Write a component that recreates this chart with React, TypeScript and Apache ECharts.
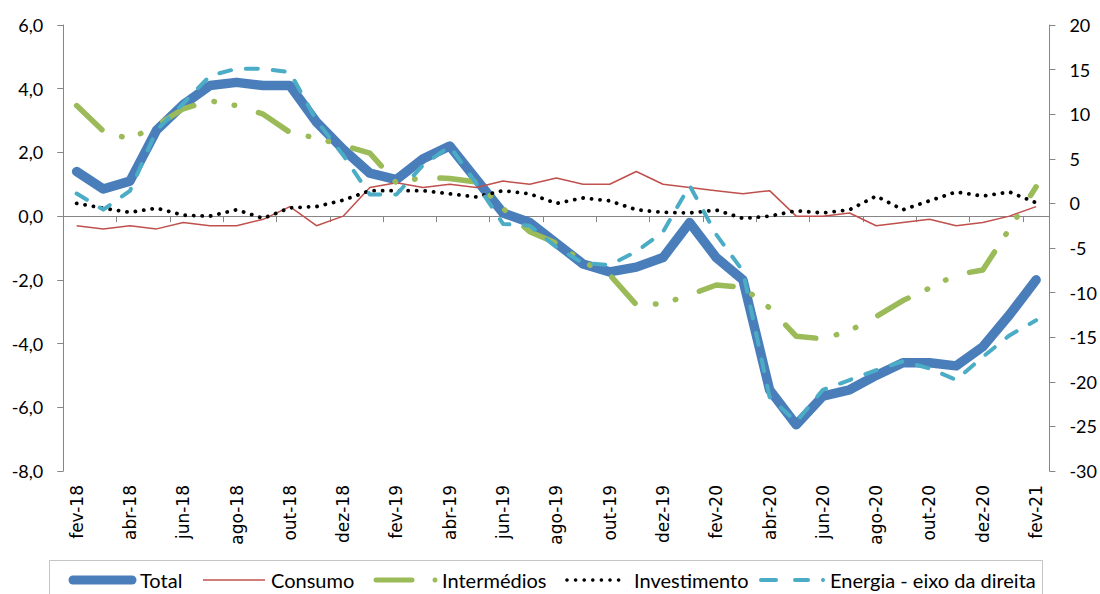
import React, { useEffect, useRef } from "react";
import * as echarts from "echarts";

const categories = [
  "fev-18", "mar-18", "abr-18", "mai-18", "jun-18", "jul-18", "ago-18", "set-18", "out-18", "nov-18", "dez-18",
  "jan-19", "fev-19", "mar-19", "abr-19", "mai-19", "jun-19", "jul-19", "ago-19", "set-19", "out-19", "nov-19", "dez-19",
  "jan-20", "fev-20", "mar-20", "abr-20", "mai-20", "jun-20", "jul-20", "ago-20", "set-20", "out-20", "nov-20", "dez-20",
  "jan-21", "fev-21",
];

const totalValues = [
  1.4, 0.85, 1.1, 2.7, 3.5, 4.1, 4.2, 4.1, 4.1, 2.95, 2.1, 1.35, 1.15,
  1.8, 2.2, 1.15, 0.1, -0.2, -0.85, -1.5, -1.75, -1.6, -1.3, -0.2, -1.3, -2.0,
  -5.45, -6.55, -5.65, -5.45, -5.0, -4.6, -4.6, -4.7, -4.1, -3.1, -2.0,
];

const consumoValues = [
  -0.3, -0.4, -0.3, -0.4, -0.2, -0.3, -0.3, -0.1, 0.3, -0.3, 0.0, 0.9, 1.05,
  0.9, 1.0, 0.9, 1.1, 1.0, 1.2, 1.0, 1.0, 1.4, 1.0, 0.9, 0.8, 0.7,
  0.8, 0.0, 0.0, 0.1, -0.3, -0.2, -0.1, -0.3, -0.2, 0.0, 0.3,
];

const intermediosValues = [
  3.47, 2.67, 2.42, 2.85, 3.37, 3.62, 3.47, 3.2, 2.63, 2.45, 2.22, 1.98, 1.04,
  1.22, 1.18, 1.07, 0.24, -0.49, -0.85, -1.43, -1.84, -2.78, -2.75, -2.47, -2.16, -2.24,
  -2.88, -3.77, -3.85, -3.6, -3.15, -2.65, -2.26, -1.84, -1.69, -0.4, 0.92,
];

const investimentoValues = [
  0.4, 0.25, 0.12, 0.25, 0.03, 0.0, 0.2, -0.07, 0.26, 0.3, 0.5, 0.8, 0.8,
  0.8, 0.7, 0.6, 0.8, 0.7, 0.4, 0.57, 0.48, 0.2, 0.12, 0.1, 0.19, -0.07,
  0.0, 0.17, 0.1, 0.2, 0.63, 0.2, 0.48, 0.76, 0.63, 0.76, 0.42,
];

const energiaValues = [
  1.1, -0.7, 1.4, 8.2, 11.2, 14.3, 15.1, 15.1, 14.7, 9.3, 5.4, 1.0, 1.0,
  4.3, 6.4, 2.2, -2.3, -2.5, -4.9, -6.7, -6.9, -5.4, -3.2, 2.0, -3.5, -7.6,
  -21.7, -24.5, -20.9, -19.8, -18.7, -17.7, -18.5, -19.8, -17.2, -14.8, -13.1,
];

const legendNames = ["Total", "Consumo", "Intermédios", "Investimento", "Energia - eixo da direita"];

const BLUE = "#4a7ebb";
const RED = "#c0504d";
const GREEN = "#9bbb59";
const BLACK = "#000000";
const CYAN = "#4bacc6";
const AXIS_GRAY = "#868686";

export default function App() {
  const ref = useRef<HTMLDivElement>(null);

  useEffect(() => {
    if (!ref.current) return;
    const chart = echarts.init(ref.current, null, { renderer: "svg" });

    const ly = 580;
    const legendFont = { fontFamily: "Lato", fontSize: 20, fill: "#000" };
    const txt = (x: number, text: string) => ({
      type: "text",
      x,
      y: ly,
      style: { text, ...legendFont, verticalAlign: "middle", align: "left" },
    });
    const investDots = [] as any[];
    for (let i = 0; i < 7; i++) {
      investDots.push({
        type: "circle",
        shape: { cx: 567 + i * 8.6, cy: ly, r: 1.8 },
        style: { fill: BLACK },
      });
    }

    const graphic = [
      {
        type: "rect",
        shape: { x: 49.5, y: 560.5, width: 993, height: 60 },
        style: { fill: "none", stroke: "#c4c4c4", lineWidth: 1 },
      },
      {
        type: "line",
        shape: { x1: 73, y1: ly, x2: 132, y2: ly },
        style: { stroke: BLUE, lineWidth: 9, lineCap: "round" },
      },
      txt(140, legendNames[0]),
      {
        type: "line",
        shape: { x1: 203, y1: ly, x2: 265, y2: ly },
        style: { stroke: RED, lineWidth: 1.5 },
      },
      txt(271, legendNames[1]),
      {
        type: "line",
        shape: { x1: 376, y1: ly, x2: 412, y2: ly },
        style: { stroke: GREEN, lineWidth: 5, lineCap: "round" },
      },
      { type: "circle", shape: { cx: 435, cy: ly, r: 2.5 }, style: { fill: GREEN } },
      txt(442, legendNames[2]),
      ...investDots,
      txt(634, legendNames[3]),
      {
        type: "line",
        shape: { x1: 761, y1: ly, x2: 776, y2: ly },
        style: { stroke: CYAN, lineWidth: 4, lineCap: "round" },
      },
      {
        type: "line",
        shape: { x1: 795, y1: ly, x2: 808, y2: ly },
        style: { stroke: CYAN, lineWidth: 4, lineCap: "round" },
      },
      { type: "circle", shape: { cx: 823, cy: ly, r: 2 }, style: { fill: CYAN } },
      txt(830, legendNames[4]),
    ];

    chart.setOption({
      animation: false,
      backgroundColor: "#ffffff",
      grid: { left: 63.3, right: 49.3, top: 25, bottom: 123, containLabel: false },
      xAxis: [
        {
          type: "category",
          data: categories,
          boundaryGap: true,
          position: "bottom",
          axisLine: { show: true, onZero: true, onZeroAxisIndex: 0, lineStyle: { color: AXIS_GRAY, width: 1 } },
          axisTick: { show: true, interval: 1, length: 6, inside: false, lineStyle: { color: AXIS_GRAY } },
          axisLabel: { show: false },
          splitLine: { show: false },
        },
        {
          type: "category",
          data: categories,
          boundaryGap: true,
          position: "bottom",
          axisLine: { show: false, onZero: false },
          axisTick: { show: false },
          axisLabel: {
            show: true,
            interval: 1,
            rotate: 90,
            margin: 14,
            color: "#000",
            fontFamily: "DejaVu Sans",
            fontSize: 17,
          },
          splitLine: { show: false },
        },
      ],
      yAxis: [
        {
          type: "value",
          min: -8,
          max: 6,
          interval: 2,
          position: "left",
          axisLine: { show: true, lineStyle: { color: AXIS_GRAY, width: 1 } },
          axisTick: { show: true, length: 6, lineStyle: { color: AXIS_GRAY } },
          axisLabel: {
            margin: 20,
            color: "#000",
            fontFamily: "Lato",
            fontSize: 18,
            formatter: (v: number) => v.toFixed(1).replace(".", ","),
          },
          splitLine: { show: false },
        },
        {
          type: "value",
          min: -30,
          max: 20,
          interval: 5,
          position: "right",
          axisLine: { show: true, lineStyle: { color: AXIS_GRAY, width: 1 } },
          axisTick: { show: true, length: 6, lineStyle: { color: AXIS_GRAY } },
          axisLabel: {
            margin: 20,
            color: "#000",
            fontFamily: "Lato",
            fontSize: 18,
          },
          splitLine: { show: false },
        },
      ],
      series: [
        {
          name: legendNames[0],
          type: "line",
          xAxisIndex: 0,
          yAxisIndex: 0,
          data: totalValues,
          symbol: "none",
          lineStyle: { color: BLUE, width: 9.5, join: "round", cap: "round" },
        },
        {
          name: legendNames[1],
          type: "line",
          xAxisIndex: 0,
          yAxisIndex: 0,
          data: consumoValues,
          symbol: "none",
          lineStyle: { color: RED, width: 1.5 },
        },
        {
          name: legendNames[2],
          type: "line",
          xAxisIndex: 0,
          yAxisIndex: 0,
          data: intermediosValues,
          symbol: "none",
          lineStyle: { color: GREEN, width: 5.5, type: [35, 21, 0.5, 20, 0.5, 25], cap: "round", join: "round" },
        },
        {
          name: legendNames[3],
          type: "line",
          xAxisIndex: 0,
          yAxisIndex: 0,
          data: investimentoValues,
          symbol: "none",
          lineStyle: { color: BLACK, width: 3.8, type: [0.1, 8.4], cap: "round" },
        },
        {
          name: legendNames[4],
          type: "line",
          xAxisIndex: 0,
          yAxisIndex: 1,
          data: energiaValues,
          symbol: "none",
          lineStyle: { color: CYAN, width: 4, type: [12, 15], cap: "round", join: "round" },
        },
      ],
      graphic,
    });

    return () => chart.dispose();
  }, []);

  return (
    <div
      ref={ref}
      style={{ position: "fixed", left: 0, top: 0, width: 1100, height: 594, background: "#fff" }}
    />
  );
}
